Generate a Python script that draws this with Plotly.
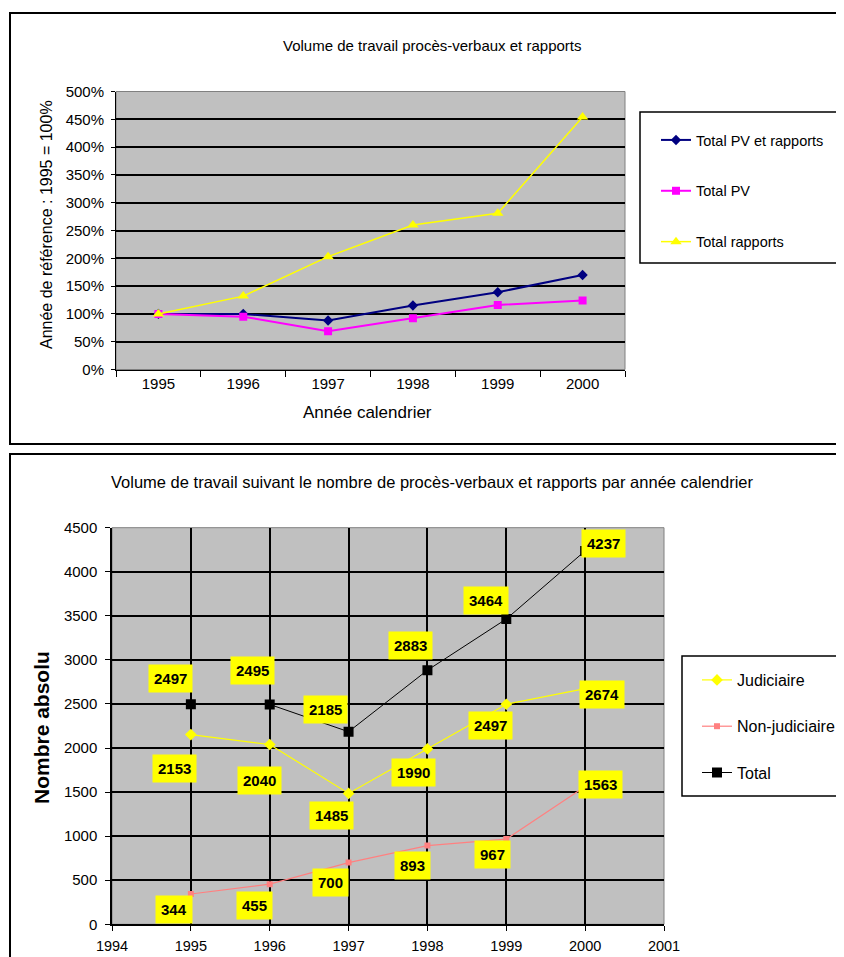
import plotly.graph_objects as go

# ---------------- data ----------------
years_top = ["1995", "1996", "1997", "1998", "1999", "2000"]
pct_total_pv_rapports = [100, 100, 88, 115, 139, 170]
pct_total_pv = [100, 95, 69, 92, 116, 124]
pct_total_rapports = [100, 132, 203, 260, 281, 454]
pct_ticks = [0, 50, 100, 150, 200, 250, 300, 350, 400, 450, 500]
pct_ticklabels = ["0%", "50%", "100%", "150%", "200%", "250%", "300%", "350%", "400%", "450%", "500%"]

years = [1995, 1996, 1997, 1998, 1999, 2000]
judiciaire = [2153, 2040, 1485, 1990, 2497, 2674]
non_judiciaire = [344, 455, 700, 893, 967, 1563]
total = [2497, 2495, 2185, 2883, 3464, 4237]

top_title = "Volume de travail procès-verbaux et rapports"
top_ytitle = "Année de référence : 1995 = 100%"
top_xtitle = "Année calendrier"
bottom_title = "Volume de travail suivant le nombre de procès-verbaux et rapports par année calendrier"
bottom_ytitle = "Nombre absolu"

# label offsets (pixels, dx right, dy down) for the data labels of the bottom chart
off_total = [(-20, -26), (-17, -34), (-23, -22), (-17, -25), (-20, -19), (18, -7)]
off_jud = [(-16, 34), (-10, 36), (-17, 22), (-14, 24), (-16, 21), (17, 6)]
off_nonjud = [(-17, 16), (-15, 21), (-18, 20), (-15, 20), (-14, 15), (15, -2)]

# the page has an 8px body margin; the figure is made a bit larger than the
# visible window so that the charts are cut at the right and bottom edges
OFF = 8
W, H = 880, 980
FONT = "Liberation Sans, Arial, sans-serif"


def px(x):
    return (x - OFF) / W


def py(y):
    return 1 - (y - OFF) / H


fig = go.Figure()

# ---------------- top chart ----------------
fig.add_trace(go.Scatter(
    x=years_top, y=pct_total_pv_rapports, name="Total PV et rapports",
    mode="lines+markers", line=dict(color="#000080", width=2),
    marker=dict(symbol="diamond", size=8, color="#000080"),
    xaxis="x", yaxis="y", legend="legend", legendgroup="a"))
fig.add_trace(go.Scatter(
    x=years_top, y=pct_total_pv, name="Total PV",
    mode="lines+markers", line=dict(color="#FF00FF", width=2),
    marker=dict(symbol="square", size=8, color="#FF00FF"),
    xaxis="x", yaxis="y", legend="legend", legendgroup="b"))
fig.add_trace(go.Scatter(
    x=years_top, y=pct_total_rapports, name="Total rapports",
    mode="lines+markers", line=dict(color="#FFFF00", width=1.5),
    marker=dict(symbol="triangle-up", size=10, color="#FFFF00"),
    xaxis="x", yaxis="y", legend="legend", legendgroup="c"))

# ---------------- bottom chart ----------------
fig.add_trace(go.Scatter(
    x=years, y=judiciaire, name="Judiciaire",
    mode="lines+markers", line=dict(color="#FFFF00", width=1.2),
    marker=dict(symbol="diamond", size=9, color="#FFFF00"),
    xaxis="x2", yaxis="y2", legend="legend2", legendgroup="d"))
fig.add_trace(go.Scatter(
    x=years, y=non_judiciaire, name="Non-judiciaire",
    mode="lines+markers", line=dict(color="#FF8080", width=1.2),
    marker=dict(symbol="square", size=6, color="#FF8080"),
    xaxis="x2", yaxis="y2", legend="legend2", legendgroup="e"))
fig.add_trace(go.Scatter(
    x=years, y=total, name="Total",
    mode="lines+markers", line=dict(color="#000000", width=1),
    marker=dict(symbol="square", size=10, color="#000000"),
    xaxis="x2", yaxis="y2", legend="legend2", legendgroup="f"))

annotations = []
for series, offs in ((total, off_total), (judiciaire, off_jud), (non_judiciaire, off_nonjud)):
    for yr, v, (dx, dy) in zip(years, series, offs):
        annotations.append(dict(
            x=yr, y=v, xref="x2", yref="y2", text=f"<b>{v}</b>", showarrow=False,
            xshift=dx, yshift=-dy, bgcolor="#FFFF00", borderpad=5,
            font=dict(family=FONT, size=15, color="#000000")))

# titles
annotations += [
    dict(x=px(432), y=py(45), xref="paper", yref="paper", text=top_title, showarrow=False,
         font=dict(family=FONT, size=15, color="#000"), xanchor="center", yanchor="middle"),
    dict(x=px(367), y=py(412), xref="paper", yref="paper", text=top_xtitle, showarrow=False,
         font=dict(family=FONT, size=17, color="#000"), xanchor="center", yanchor="middle"),
    dict(x=px(46), y=py(225), xref="paper", yref="paper", text=top_ytitle, showarrow=False,
         textangle=-90, font=dict(family=FONT, size=16, color="#000"),
         xanchor="center", yanchor="middle"),
    dict(x=px(432), y=py(482), xref="paper", yref="paper", text=bottom_title, showarrow=False,
         font=dict(family=FONT, size=16.5, color="#000"), xanchor="center", yanchor="middle"),
    dict(x=px(41), y=py(728), xref="paper", yref="paper", text=f"<b>{bottom_ytitle}</b>",
         showarrow=False, textangle=-90, font=dict(family=FONT, size=21, color="#000"),
         xanchor="center", yanchor="middle"),
]

shapes = [
    # outer chart borders
    dict(type="rect", xref="paper", yref="paper", x0=px(10), x1=px(900), y0=py(444), y1=py(13),
         line=dict(color="#000", width=2)),
    dict(type="rect", xref="paper", yref="paper", x0=px(10), x1=px(900), y0=py(1000), y1=py(454),
         line=dict(color="#000", width=2)),
    # legend boxes
    dict(type="rect", xref="paper", yref="paper", x0=px(640), x1=px(900), y0=py(263), y1=py(112),
         line=dict(color="#000", width=1.5)),
    dict(type="rect", xref="paper", yref="paper", x0=px(682), x1=px(900), y0=py(796), y1=py(656),
         line=dict(color="#000", width=1.5)),
    # plot area outlines
    dict(type="rect", xref="x domain", yref="y domain", x0=0, x1=1, y0=0, y1=1,
         line=dict(color="#808080", width=1), layer="below"),
    dict(type="rect", xref="x2 domain", yref="y2 domain", x0=0, x1=1, y0=0, y1=1,
         line=dict(color="#808080", width=1), layer="below"),
]

tickfont = dict(family=FONT, size=15, color="#000")

fig.update_layout(
    width=W, height=H,
    margin=dict(l=0, r=0, t=0, b=0, autoexpand=False),
    paper_bgcolor="#FFFFFF", plot_bgcolor="#C0C0C0",
    font=dict(family=FONT, color="#000"),
    showlegend=True,
    xaxis=dict(domain=[px(116), px(625)], anchor="y", type="category",
               range=[-0.5, 5.5], tickson="boundaries", ticks="outside", ticklen=6,
               tickcolor="#000", tickwidth=1, showline=True, linecolor="#000", linewidth=1,
               showgrid=False, zeroline=False, tickfont=tickfont),
    yaxis=dict(domain=[py(369.5), py(91.5)], anchor="x", range=[0, 500],
               tickmode="array", tickvals=pct_ticks, ticktext=pct_ticklabels,
               ticks="outside", ticklen=4,
               tickcolor="#000", showline=True, linecolor="#000", linewidth=1,
               showgrid=True, gridcolor="#000", gridwidth=2, zeroline=False,
               tickfont=tickfont, ticklabelstandoff=4),
    xaxis2=dict(domain=[px(112), px(664)], anchor="y2", range=[1994, 2001], dtick=1,
                ticks="outside", ticklen=5, tickcolor="#000", showline=True, linecolor="#000",
                linewidth=1.5, showgrid=True, gridcolor="#000", gridwidth=2, zeroline=False,
                tickfont=dict(family=FONT, size=14.5, color="#000"), ticklabelstandoff=3),
    yaxis2=dict(domain=[py(924.3), py(527.7)], anchor="x2", range=[0, 4500], dtick=500,
                ticks="outside", ticklen=5, tickcolor="#000", showline=True, linecolor="#000",
                linewidth=1.5, showgrid=True, gridcolor="#000", gridwidth=2, zeroline=False,
                tickfont=tickfont, ticklabelstandoff=5),
    legend=dict(x=px(656), y=py(124), xanchor="left", yanchor="top", bgcolor="rgba(0,0,0,0)",
                borderwidth=0, tracegroupgap=29, traceorder="grouped",
                font=dict(family=FONT, size=14.5, color="#000")),
    legend2=dict(x=px(697), y=py(663), xanchor="left", yanchor="top", bgcolor="rgba(0,0,0,0)",
                 borderwidth=0, tracegroupgap=22.5, traceorder="grouped",
                 font=dict(family=FONT, size=16, color="#000")),
    annotations=annotations,
    shapes=shapes,
)

fig.write_html(
    "out.html",
    post_script="document.documentElement.style.overflow='hidden';document.body.style.overflow='hidden';",
)
